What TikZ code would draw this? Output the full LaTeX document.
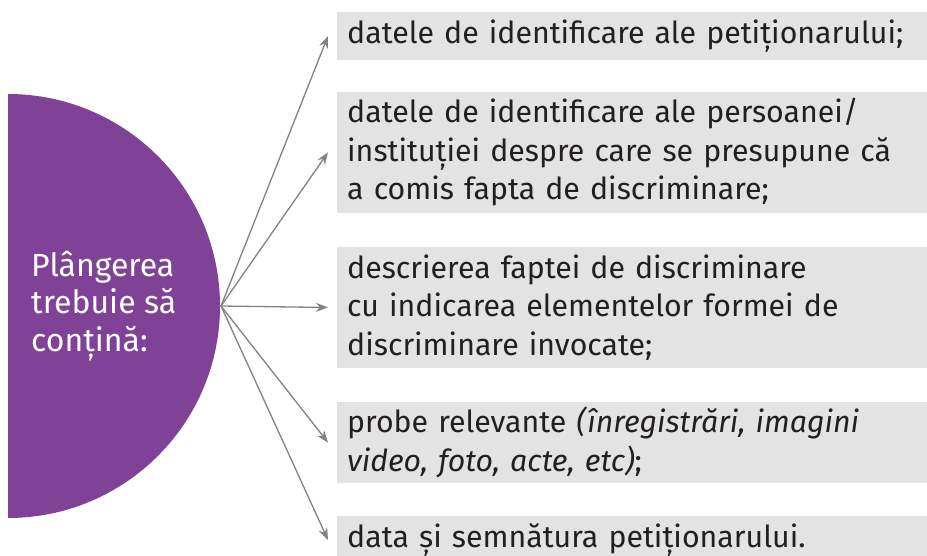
\documentclass[tikz,border=0pt]{standalone}
\usepackage{fontspec}
\setmainfont{Fira Sans}
\usepackage{tikz}
\usetikzlibrary{positioning,arrows.meta}
\definecolor{plum}{RGB}{128,66,150}
\definecolor{boxgray}{RGB}{227,227,227}
\definecolor{arrgray}{RGB}{128,131,133}
\definecolor{ink}{RGB}{35,31,32}
\tikzset{item/.style = {fill=boxgray,text=ink,anchor=west,align=left,text width=570pt,minimum width=590pt,inner xsep=10pt,inner ysep=0pt,font=\fontsize{30.3}{38.5}\selectfont}}
\tikzset{lbl/.style = {text=white,anchor=west,align=left,inner sep=0pt,font=\fontsize{32}{37.5}\selectfont}}
\tikzset{arr/.style = {draw=arrgray,line width=1.3pt,-{Stealth[length=12pt,width=9pt]}}}

\begin{document}
\begin{tikzpicture}[x=1pt,y=-1pt]
            \clip (0,0) rectangle (927,556);
            \fill[white] (0,0) rectangle (927,556);
            \fill[plum] (8,94) arc[start angle=-90, end angle=90, radius=212] -- cycle;
            \node[lbl] (lbl) at (31,306) {Plângerea\\trebuie să\\conțină:};
            \coordinate (src) at (221,306);
            \node[item, minimum height=48pt]  (b1) at (337,36)    {datele de identificare ale petiționarului;};
            \node[item, minimum height=121pt] (b2) at (337,152.5) {datele de identificare ale persoanei/\\instituției despre care se presupune că\\a comis fapta de discriminare;};
            \node[item, minimum height=121pt] (b3) at (337,307.5) {descrierea faptei de discriminare\\cu indicarea elementelor formei de\\discriminare invocate;};
            \node[item, minimum height=81pt]  (b4) at (337,442.5) {probe relevante \textit{(înregistrări, imagini}\\\textit{video, foto, acte, etc)};};
            \node[item, minimum height=48pt]  (b5) at (337,540)   {data și semnătura petiționarului.};
            \foreach \i in {1,...,5} {
                \coordinate (t\i) at ([xshift=-9pt]b\i.west);
                \draw[arr] (src) -- (t\i);
            }
        \end{tikzpicture}
\end{document}
